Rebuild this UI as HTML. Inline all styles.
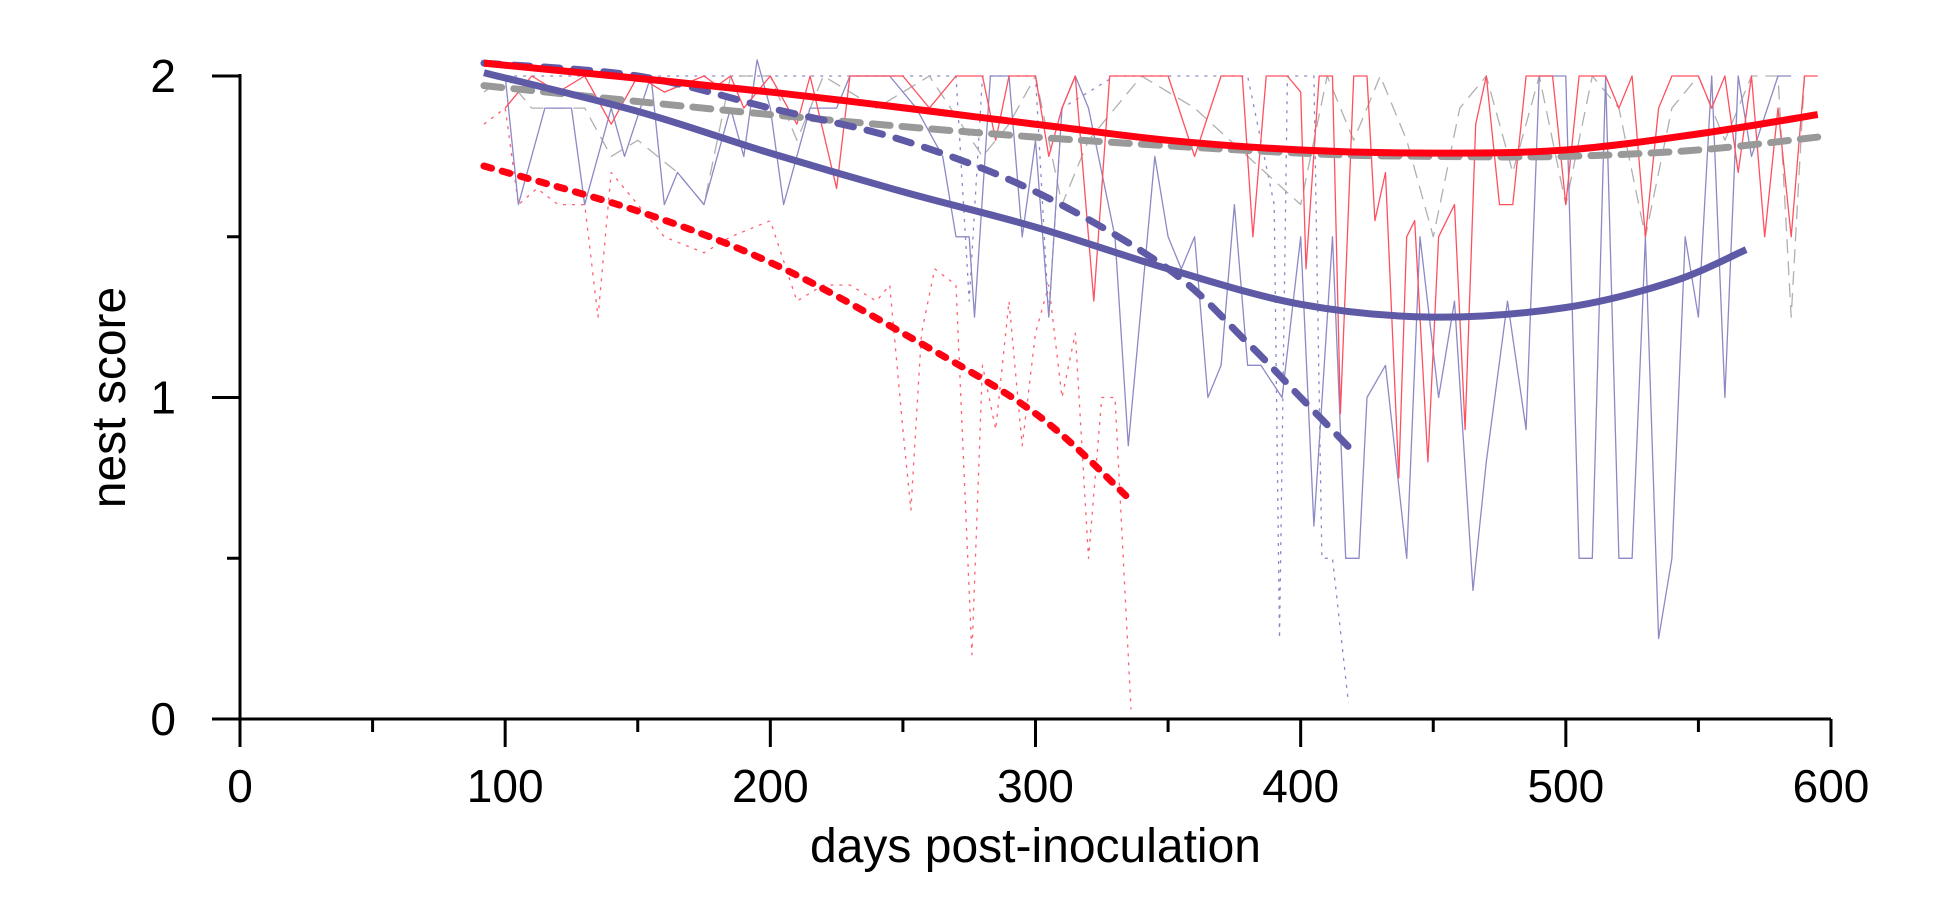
<!DOCTYPE html>
<html><head><meta charset="utf-8"><style>
html,body{margin:0;padding:0;background:#fff;}
svg{display:block;font-family:"Liberation Sans",Arial,sans-serif;}
</style></head><body>
<svg id="chart" width="1950" height="900" viewBox="0 0 1950 900" xmlns="http://www.w3.org/2000/svg">
<g id="series"></g>
<g id="axes"></g>
</svg>
<script>
const xTicks=[0,100,200,300,400,500,600];
const xMinor=[50,150,250,350,450,550];
const yTicks=[0,1,2];
const yMinor=[0.5,1.5];
const purpleThinX=[100,105,115,125,130,140,145,155,160,165,175,185,190,195,200,205,215,225,230,245,255,265,270,275,277,283,290,295,300,305,310,315,320,330,335,340,345,350,355,360,365,370,375,380,385,393,400,405,412,417,422,425,432,440,445,452,458,465,470,478,485,490,500,505,510,515,520,525,530,535,540,545,550,555,560,565,570,580,585];
const purpleThinY=[2.0,1.6,1.9,1.9,1.6,1.9,1.75,2.0,1.6,1.7,1.6,1.9,1.75,2.05,1.9,1.6,1.9,1.9,2.0,2.0,1.9,1.75,1.5,1.5,1.25,2.0,2.0,1.5,1.8,1.25,1.9,2.0,1.9,1.5,0.85,1.3,1.75,1.5,1.4,1.5,1.0,1.1,1.6,1.1,1.1,1.0,1.5,0.6,1.5,0.5,0.5,1.0,1.1,0.5,1.5,1.0,1.3,0.4,0.8,1.3,0.9,2.0,2.0,0.5,0.5,2.0,0.5,0.5,1.5,0.25,0.5,1.5,1.25,2.0,1.0,2.0,1.75,2.0,2.0];
const redThinX=[100,110,120,130,140,150,160,175,180,185,190,200,210,215,225,230,250,260,270,280,285,290,300,305,310,315,322,328,340,350,360,370,378,382,387,395,400,402,407,412,415,420,425,428,432,437,440,443,448,452,458,462,466,470,475,480,485,495,500,505,515,520,525,530,535,540,550,555,560,565,570,575,580,585,590,595];
const redThinY=[1.9,2.0,1.95,2.0,1.85,2.0,1.95,2.0,1.97,2.0,1.9,2.0,1.85,2.0,1.65,2.0,2.0,1.9,2.0,2.0,1.8,2.0,2.0,1.75,1.9,2.0,1.3,2.0,2.0,2.0,1.75,2.0,2.0,1.5,2.0,2.0,1.95,1.4,2.0,2.0,0.95,2.0,2.0,1.55,1.7,0.75,1.5,1.55,0.8,1.5,1.6,0.9,1.85,2.0,1.6,1.6,2.0,2.0,1.6,2.0,2.0,1.9,2.0,1.5,1.9,2.0,2.0,1.9,2.0,1.7,2.0,1.5,1.9,1.5,2.0,2.0];
const grayThinX=[92,100,110,120,130,140,150,165,175,185,200,210,220,240,260,280,290,300,310,320,340,360,380,400,410,420,430,440,450,460,470,480,490,500,510,520,530,540,550,560,570,580,585,590];
const grayThinY=[1.95,2.0,1.9,1.9,1.9,1.75,1.8,1.7,1.6,2.0,2.0,1.8,2.0,1.9,2.0,1.75,1.85,2.0,1.6,1.8,2.0,1.9,1.75,1.6,2.0,1.8,2.0,1.8,1.5,1.9,2.0,1.7,2.0,1.6,2.0,1.9,1.5,1.9,2.0,1.8,2.0,2.0,1.25,2.0];
const purpleDotX=[100,150,200,270,275,280,300,305,310,330,380,390,392,395,405,408,412,418];
const purpleDotY=[2.0,2.0,2.0,2.0,1.3,2.0,2.0,1.25,1.9,2.0,2.0,1.6,0.25,2.0,2.0,0.5,0.5,0.05];
const redDotX=[92,100,105,112,120,130,135,140,150,160,175,185,200,210,220,230,240,245,250,253,257,262,270,276,280,285,290,295,300,305,310,315,320,325,330,336];
const redDotY=[1.85,1.9,1.6,1.65,1.6,1.6,1.25,1.7,1.6,1.5,1.45,1.5,1.55,1.3,1.35,1.35,1.3,1.35,0.9,0.65,1.2,1.4,1.35,0.2,1.1,0.9,1.3,0.85,1.2,1.35,1.0,1.2,0.5,1.0,1.0,0.03];
const redFitX=[92,200,300,350,400,450,500,550,595];
const redFitY=[2.04,1.95,1.85,1.80,1.77,1.76,1.77,1.82,1.88];
const grayFitX=[92,200,300,400,450,500,550,595];
const grayFitY=[1.97,1.88,1.81,1.76,1.75,1.75,1.77,1.81];
const purpleFitX=[92,150,200,250,300,350,400,450,500,540,568];
const purpleFitY=[2.01,1.89,1.76,1.64,1.53,1.40,1.29,1.25,1.28,1.36,1.46];
const purpleDashFitX=[92,150,200,250,300,350,380,400,420];
const purpleDashFitY=[2.04,2.00,1.90,1.80,1.64,1.40,1.17,1.00,0.83];
const redDashFitX=[92,150,200,250,300,336];
const redDashFitY=[1.72,1.58,1.42,1.20,0.95,0.68];

const X0=240,X1=1831,Y0=719,Y2=76;
const sx=v=>X0+(X1-X0)*v/600;
const sy=v=>Y0-(Y0-Y2)*v/2;
const NS="http://www.w3.org/2000/svg";
const series=document.getElementById('series');
const axes=document.getElementById('axes');
function mk(tag,attrs,parent){const e=document.createElementNS(NS,tag);for(const k in attrs)e.setAttribute(k,attrs[k]);parent.appendChild(e);return e;}
function poly(xs,ys){return xs.map((x,i)=>(i?'L':'M')+sx(x).toFixed(1)+' '+sy(ys[i]).toFixed(1)).join(' ');}
function smooth(xs,ys){const p=xs.map((x,i)=>[sx(x),sy(ys[i])]);let d='M'+p[0][0]+' '+p[0][1];
for(let i=0;i<p.length-1;i++){const a=p[i-1]||p[i],b=p[i],c=p[i+1],e=p[i+2]||c;
d+=' C'+(b[0]+(c[0]-a[0])/6)+' '+(b[1]+(c[1]-a[1])/6)+' '+(c[0]-(e[0]-b[0])/6)+' '+(c[1]-(e[1]-b[1])/6)+' '+c[0]+' '+c[1];}return d;}
function line(d,stroke,w,dash,name){const e=mk('path',{d:d,fill:'none',stroke:stroke,'stroke-width':w,'stroke-linejoin':'round','stroke-linecap':dash&&w>3?'round':'butt'},series);if(dash)e.setAttribute('stroke-dasharray',dash);

}
const P='#5e5aa6',R='#ff0012',G='#999999';
line(poly(purpleDotX,purpleDotY),'#8c89c4',1.3,'3 6','purple-dotted-raw');
line(poly(redDotX,redDotY),'#ff6070',1.3,'3 6','red-dotted-raw');
line(poly(grayThinX,grayThinY),'#b0b0b0',1.3,'14 8','gray-dashed-raw');
line(poly(purpleThinX,purpleThinY),'#8c89c4',1.3,null,'purple-solid-raw');
line(poly(redThinX,redThinY),'#ff5060',1.3,null,'red-solid-raw');
line(smooth(grayFitX,grayFitY),G,7,'18 12','gray-dashed-fit');
line(smooth(purpleFitX,purpleFitY),P,7,null,'purple-solid-fit');
line(smooth(purpleDashFitX,purpleDashFitY),P,7,'16 14','purple-dashed-fit');
line(smooth(redDashFitX,redDashFitY),R,7,'8 11','red-dotted-fit');
line(smooth(redFitX,redFitY),R,7,null,'red-solid-fit');

let e;
e=mk('line',{x1:X0,y1:Y2-2,x2:X0,y2:Y0+2,stroke:'#000','stroke-width':3},axes);

e=mk('line',{x1:X0-1.5,y1:Y0,x2:X1,y2:Y0,stroke:'#000','stroke-width':3},axes);

xTicks.forEach(v=>{let t=mk('line',{x1:sx(v),y1:Y0,x2:sx(v),y2:Y0+28,stroke:'#000','stroke-width':3},axes);

let l=mk('text',{x:sx(v),y:Y0+83,'font-size':46,'text-anchor':'middle'},axes);l.textContent=v;
});
xMinor.forEach(v=>{let t=mk('line',{x1:sx(v),y1:Y0,x2:sx(v),y2:Y0+13,stroke:'#000','stroke-width':3},axes);
});
yTicks.forEach(v=>{let t=mk('line',{x1:X0-28,y1:sy(v),x2:X0,y2:sy(v),stroke:'#000','stroke-width':3},axes);

let l=mk('text',{x:X0-64,y:sy(v)+16,'font-size':46,'text-anchor':'end'},axes);l.textContent=v;
});
yMinor.forEach(v=>{let t=mk('line',{x1:X0-13,y1:sy(v),x2:X0,y2:sy(v),stroke:'#000','stroke-width':3},axes);
});
e=mk('text',{x:(X0+X1)/2,y:862,'font-size':48,'text-anchor':'middle'},axes);e.textContent='days post-inoculation';

e=mk('text',{x:0,y:0,'font-size':48,'text-anchor':'middle',transform:'translate(125,'+((Y0+Y2)/2)+') rotate(-90)'},axes);e.textContent='nest score';

</script>
</body></html>
